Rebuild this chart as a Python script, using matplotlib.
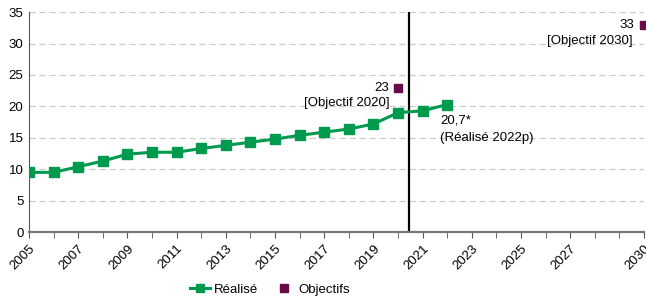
import matplotlib.pyplot as plt
import numpy as np

plt.rcParams['font.family'] = ['Liberation Sans', 'DejaVu Sans']

# part des renouvelables (%)
years = list(range(2005, 2023))
realise = [9.5, 9.5, 10.4, 11.3, 12.4, 12.7, 12.7, 13.3, 13.8, 14.3,
           14.8, 15.4, 15.9, 16.4, 17.2, 19.0, 19.3, 20.3]
obj_years = [2020, 2030]
objectifs = [23, 33]
xlabels = [2005, 2007, 2009, 2011, 2013, 2015, 2017, 2019, 2021, 2023, 2025, 2027, 2030]

green = '#009a4e'
purple = '#6a0a48'

fig = plt.figure(figsize=(6.46, 2.96), dpi=100)
ax = fig.add_axes([0.045, 0.216, 0.952, 0.743])

ax.plot(years, realise, color=green, lw=2.2, marker='s', ms=6.5, label='Réalisé', zorder=3)
ax.plot(obj_years, objectifs, ls='none', marker='s', ms=6, color=purple,
        label='Objectifs', zorder=3, clip_on=False)

ax.axvline(2020.45, color='black', lw=1.6, zorder=2)

ax.set_xlim(2005, 2030)
ax.set_ylim(0, 35)
ax.set_yticks(range(0, 36, 5))
ax.set_xticks(range(2005, 2031), minor=True)
ax.set_xticks(xlabels)
ax.tick_params(axis='x', which='both', length=4, color='#555555', labelsize=9.5, labelrotation=45)
ax.tick_params(axis='y', length=0, labelsize=9.5, pad=4)
for lab in ax.get_xticklabels():
    lab.set_ha('right')
    lab.set_rotation_mode('anchor')

ax.grid(axis='y', color='#cccccc', ls=(0, (5, 3)), lw=0.9)
ax.set_axisbelow(True)
for s in ['top', 'right']:
    ax.spines[s].set_visible(False)
ax.spines['left'].set_color('#555555')
ax.spines['bottom'].set_color('#777777')
ax.spines['bottom'].set_linewidth(1.6)

fs = 9.5
ax.text(2019.65, 23, '23', ha='right', va='center', fontsize=fs)
ax.text(2019.65, 20.6, '[Objectif 2020]', ha='right', va='center', fontsize=fs)
ax.text(2029.6, 33, '33', ha='right', va='center', fontsize=fs)
ax.text(2029.55, 30.4, '[Objectif 2030]', ha='right', va='center', fontsize=fs)
ax.text(2021.7, 17.7, '20,7*', ha='left', va='center', fontsize=fs)
ax.text(2021.7, 15.0, '(Réalisé 2022p)', ha='left', va='center', fontsize=fs)

fig.legend(loc='center', bbox_to_anchor=(0.418, 0.022), ncol=2, frameon=False,
           fontsize=9.5, handlelength=1.5, columnspacing=1.2, handletextpad=0.3,
           borderpad=0.1, markerscale=0.9)

fig.savefig('out.png', dpi=100)
